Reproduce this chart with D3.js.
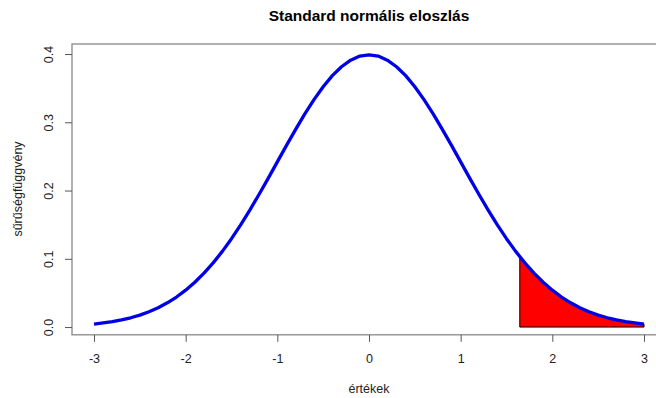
<!DOCTYPE html>
<html>
<head>
<meta charset="utf-8">
<script src="https://cdn.jsdelivr.net/npm/d3@7"></script>
<style>
  body { margin: 0; background: #fff; }
  svg { font-family: "Liberation Sans", Arial, sans-serif; }
</style>
</head>
<body>
<div id="chart"></div>
<script>
// values (x step 0.1)
const xVals = [-3.0,-2.9,-2.8,-2.7,-2.6,-2.5,-2.4,-2.3,-2.2,-2.1,-2.0,-1.9,-1.8,-1.7,-1.6,-1.5,-1.4,-1.3,-1.2,-1.1,-1.0,
  -0.9,-0.8,-0.7,-0.6,-0.5,-0.4,-0.3,-0.2,-0.1,0.0,0.1,0.2,0.3,0.4,0.5,0.6,0.7,0.8,0.9,1.0,
  1.1,1.2,1.3,1.4,1.5,1.6,1.7,1.8,1.9,2.0,2.1,2.2,2.3,2.4,2.5,2.6,2.7,2.8,2.9,3.0];
const densVals = [0.0044,0.0060,0.0079,0.0104,0.0136,0.0175,0.0224,0.0283,0.0355,0.0440,0.0540,0.0656,0.0790,0.0940,0.1109,0.1295,0.1497,0.1714,0.1942,0.2179,0.2420,
  0.2661,0.2897,0.3123,0.3332,0.3521,0.3683,0.3814,0.3910,0.3970,0.3989,0.3970,0.3910,0.3814,0.3683,0.3521,0.3332,0.3123,0.2897,0.2661,0.2420,
  0.2179,0.1942,0.1714,0.1497,0.1295,0.1109,0.0940,0.0790,0.0656,0.0540,0.0440,0.0355,0.0283,0.0224,0.0175,0.0136,0.0104,0.0079,0.0060,0.0044];
// shaded tail, starting at the 95% quantile
const tailStart = 1.645;
const tailStartDens = 0.1031;
const xTicks = [-3, -2, -1, 0, 1, 2, 3];
const yTicks = [0.0, 0.1, 0.2, 0.3, 0.4];

const W = 656, H = 398;
const svg = d3.select("#chart").append("svg")
  .attr("width", W).attr("height", H);

const x = d3.scaleLinear().domain([-3.24, 3.24]).range([72, 666]);
const y = d3.scaleLinear().domain([-0.01135, 0.4147]).range([334.8, 44]);

// plot box
svg.append("rect")
  .attr("x", 72).attr("y", 44)
  .attr("width", 594).attr("height", 290.8)
  .attr("fill", "none").attr("stroke", "#888").attr("stroke-width", 1.3);

// tail polygon
let poly = [[tailStart, 0], [tailStart, tailStartDens]];
xVals.forEach((v, i) => { if (v > tailStart) poly.push([v, densVals[i]]); });
poly.push([xVals[xVals.length - 1], 0]);
svg.append("path")
  .attr("d", "M" + poly.map(p => x(p[0]) + "," + y(p[1])).join("L") + "Z")
  .attr("fill", "#ff0000").attr("stroke", "#000").attr("stroke-width", 1);

// density curve
const line = d3.line()
  .x((d, i) => x(xVals[i]))
  .y(d => y(d));
svg.append("path")
  .datum(densVals)
  .attr("d", line)
  .attr("fill", "none")
  .attr("stroke", "#0000e6")
  .attr("stroke-width", 3.3)
  .attr("stroke-linejoin", "round");

// x axis (plain hyphen for negatives, like R)
const gx = svg.append("g")
  .attr("transform", "translate(0,334.8)")
  .call(d3.axisBottom(x).tickValues(xTicks).tickSize(7).tickFormat(d => String(d)));
gx.select(".domain").remove();
gx.selectAll("line").attr("stroke", "#555");
gx.selectAll("text")
  .attr("y", 24).attr("dy", "0.35em")
  .attr("fill", "#222").style("font-size", "12.5px")
  .style("font-family", "Liberation Sans, Arial, sans-serif");

// y axis
const gy = svg.append("g")
  .attr("transform", "translate(72,0)")
  .call(d3.axisLeft(y).tickValues(yTicks).tickSize(7).tickFormat(d3.format(".1f")));
gy.select(".domain").remove();
gy.selectAll("line").attr("stroke", "#555");
gy.selectAll("text")
  .attr("transform", "rotate(-90)")
  .attr("x", 0).attr("y", -23).attr("dy", "0.35em")
  .attr("text-anchor", "middle")
  .attr("fill", "#222").style("font-size", "12.5px")
  .style("font-family", "Liberation Sans, Arial, sans-serif");

// titles
svg.append("text")
  .attr("x", 369).attr("y", 20.5)
  .attr("text-anchor", "middle")
  .style("font-size", "15.5px").style("font-weight", "bold")
  .text("Standard normális eloszlás");

svg.append("text")
  .attr("x", 369).attr("y", 393)
  .attr("text-anchor", "middle")
  .attr("fill", "#222")
  .style("font-size", "12.5px")
  .text("értékek");

svg.append("text")
  .attr("transform", "translate(22,189) rotate(-90)")
  .attr("text-anchor", "middle")
  .attr("fill", "#222")
  .style("font-size", "12.5px")
  .text("sűrűségfüggvény");
</script>
</body>
</html>
